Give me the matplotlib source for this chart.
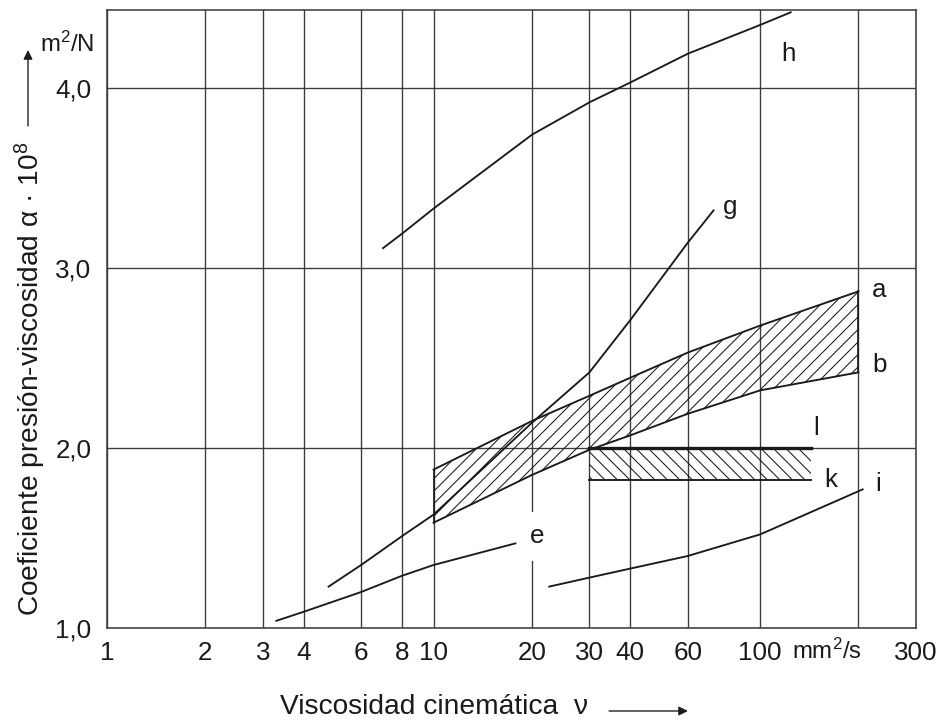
import matplotlib
matplotlib.use("Agg")
import matplotlib.pyplot as plt
from matplotlib.ticker import NullLocator

plt.rcParams['font.family'] = ['Liberation Sans', 'DejaVu Sans']
plt.rcParams['mathtext.fontset'] = 'custom'
plt.rcParams['mathtext.rm'] = 'Liberation Sans'
plt.rcParams['mathtext.it'] = 'Liberation Sans:italic'
plt.rcParams['hatch.linewidth'] = 1.0

# curve data (viscosity mm2/s, alpha*1e8 m2/N)
h_x = [7.0, 8, 10, 20, 30, 40, 60, 100, 124]
h_y = [3.11, 3.19, 3.33, 3.74, 3.92, 4.03, 4.19, 4.35, 4.42]

g_x = [4.77, 6, 8, 10, 20, 30, 40, 60, 72]
g_y = [1.23, 1.35, 1.51, 1.63, 2.14, 2.42, 2.71, 3.14, 3.32]

band_x = [10, 20, 30, 40, 60, 100, 200]
a_y = [1.88, 2.15, 2.29, 2.39, 2.53, 2.68, 2.87]
b_y = [1.585, 1.85, 1.99, 2.07, 2.19, 2.32, 2.42]

e_x = [3.3, 4, 6, 8, 10, 17.8]
e_y = [1.04, 1.09, 1.20, 1.29, 1.35, 1.47]

i_x = [22.6, 30, 40, 60, 100, 206]
i_y = [1.23, 1.28, 1.33, 1.40, 1.52, 1.77]

k_x = [30, 143]
k_low = [1.82, 1.82]
k_high = [2.0, 2.0]

labels = {'h': (122, 4.19), 'g': (81, 3.34), 'a': (232, 2.88), 'b': (232, 2.46),
          'l': (148, 2.11), 'k': (165, 1.82), 'i': (229, 1.80), 'e': (20.7, 1.51)}

xticks = [1, 2, 3, 4, 6, 8, 10, 20, 30, 40, 60, 100, 200, 300]
xticklabels = ['1', '2', '3', '4', '6', '8', '10', '20', '30', '40', '60', '100',
               '', '300']
x_unit = 'mm$^2$/s'
x_unit_pos = 160
yticks = [1.0, 2.0, 3.0, 4.0]
yticklabels = ['1,0', '2,0', '3,0', '4,0']

ink = '#1a1a1a'
gridc = '#3c3c3c'
fs = 25

fig = plt.figure(figsize=(938 / 75, 720 / 75), dpi=75)
ax = fig.add_axes([107 / 938, 92 / 720, 809 / 938, 618 / 720])
ax.set_xscale('log')
ax.set_xlim(1, 300)
ax.set_ylim(1.0, 4.433)

ax.set_xticks(xticks)
ax.set_xticklabels(xticklabels)
ax.xaxis.set_minor_locator(NullLocator())
ax.set_yticks(yticks)
ax.set_yticklabels(yticklabels)
ax.tick_params(axis='x', length=0, pad=12, labelsize=fs, colors=ink)
ax.tick_params(axis='y', length=0, pad=15, labelsize=fs, colors=ink)
ax.grid(True, color=gridc, lw=1.3, zorder=1)
ax.set_axisbelow(True)
for s in ax.spines.values():
    s.set_color(gridc)
    s.set_linewidth(1.5)

# unit label between 100 and 300
ax.text(x_unit_pos, -0.037, x_unit, transform=ax.get_xaxis_transform(),
        fontsize=fs - 2, ha='center', va='center', color=ink)

# hatched band a-b
ax.fill_between(band_x, b_y, a_y, facecolor='none', edgecolor=ink, hatch='//',
                lw=0, zorder=2)
ax.plot(band_x, a_y, color=ink, lw=1.8, zorder=4)
ax.plot(band_x, b_y, color=ink, lw=1.8, zorder=4)
ax.plot([band_x[0], band_x[0]], [b_y[0], a_y[0]], color=ink, lw=1.6, zorder=4)
ax.plot([band_x[-1], band_x[-1]], [b_y[-1], a_y[-1]], color=ink, lw=1.6, zorder=4)

# hatched strip k and line l
ax.fill_between(k_x, k_low, k_high, facecolor='none', edgecolor=ink, hatch='\\\\',
                lw=0, zorder=2)
ax.plot(k_x, k_low, color=ink, lw=1.8, zorder=4)
ax.plot(k_x, k_high, color=ink, lw=3.2, zorder=4)

for xs, ys in [(h_x, h_y), (g_x, g_y), (e_x, e_y), (i_x, i_y)]:
    ax.plot(xs, ys, color=ink, lw=1.8, zorder=4)

for name, (lx, ly) in labels.items():
    bb = dict(fc='white', ec='none', pad=12) if name == 'e' else None
    ax.text(lx, ly, name, fontsize=fs, ha='center', va='center', color=ink,
            bbox=bb, zorder=3)

# axis labels with arrows
fig.text(434 / 938, 1 - 707 / 720, 'Viscosidad cinemática  ν', fontsize=27,
         ha='center', va='center', color=ink)
ax.annotate('', xy=(690 / 938, 1 - 711 / 720), xytext=(607 / 938, 1 - 711 / 720),
            xycoords='figure fraction', textcoords='figure fraction',
            arrowprops=dict(arrowstyle='-|>', color=ink, lw=1.3, mutation_scale=18))

fig.text(30 / 938, 1 - 616 / 720, 'Coeficiente presión-viscosidad α · 10$^8$',
         fontsize=27, rotation=90, ha='center', va='bottom', color=ink)
ax.annotate('', xy=(28 / 938, 1 - 48 / 720), xytext=(28 / 938, 1 - 128 / 720),
            xycoords='figure fraction', textcoords='figure fraction',
            arrowprops=dict(arrowstyle='-|>', color=ink, lw=1.3, mutation_scale=18))
fig.text(67 / 938, 1 - 44 / 720, 'm$^2$/N', fontsize=fs - 2, ha='center', va='center',
         color=ink)

fig.savefig('out.png', dpi=75, facecolor='white')
